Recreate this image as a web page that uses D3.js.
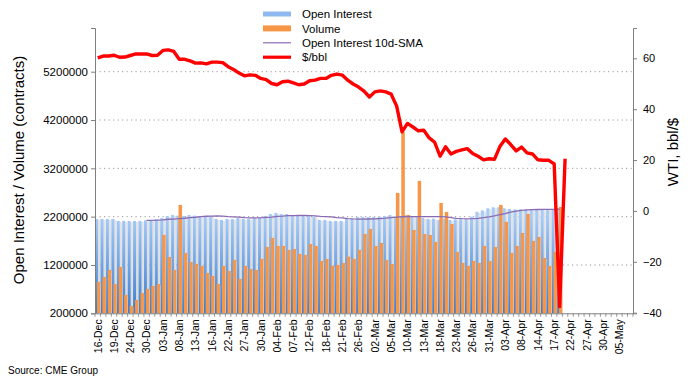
<!DOCTYPE html>
<html><head><meta charset="utf-8">
<script src="https://cdn.jsdelivr.net/npm/d3@7"></script>
<style>
html,body{margin:0;padding:0;background:#fff;}
svg{display:block;font-family:"Liberation Sans",Arial,sans-serif;}
</style></head>
<body><svg id="c" width="690" height="385"></svg>
<script>
const dates = ["16-Dec","17-Dec","18-Dec","19-Dec","20-Dec","23-Dec","24-Dec","26-Dec","27-Dec","30-Dec","31-Dec",
"02-Jan","03-Jan","06-Jan","07-Jan","08-Jan","09-Jan","10-Jan","13-Jan","14-Jan","15-Jan","16-Jan","17-Jan","21-Jan","22-Jan","23-Jan","24-Jan","27-Jan","28-Jan","29-Jan","30-Jan","31-Jan",
"03-Feb","04-Feb","05-Feb","06-Feb","07-Feb","10-Feb","11-Feb","12-Feb","13-Feb","14-Feb","18-Feb","19-Feb","20-Feb","21-Feb","24-Feb","25-Feb","26-Feb","27-Feb","28-Feb",
"02-Mar","03-Mar","04-Mar","05-Mar","06-Mar","09-Mar","10-Mar","11-Mar","12-Mar","13-Mar","16-Mar","17-Mar","18-Mar","19-Mar","20-Mar","23-Mar","24-Mar","25-Mar","26-Mar","27-Mar","30-Mar","31-Mar",
"01-Apr","02-Apr","03-Apr","06-Apr","07-Apr","08-Apr","09-Apr","13-Apr","14-Apr","15-Apr","16-Apr","17-Apr","20-Apr","21-Apr","22-Apr","23-Apr","24-Apr","27-Apr","28-Apr","29-Apr","30-Apr",
"01-May","04-May","05-May","06-May","07-May"];

const tickLabels = ["16-Dec","19-Dec","24-Dec","30-Dec","03-Jan","08-Jan","13-Jan","16-Jan","22-Jan","27-Jan","30-Jan","04-Feb","07-Feb","12-Feb","18-Feb","21-Feb","26-Feb","02-Mar","05-Mar","10-Mar","13-Mar","18-Mar","23-Mar","26-Mar","31-Mar","03-Apr","08-Apr","14-Apr","17-Apr","22-Apr","27-Apr","30-Apr","05-May"];

// Open interest (contracts), 16-Dec .. 20-Apr
const openInterest = [2153000,2153000,2153000,2153000,2112000,2112000,2112000,2112000,2112000,2125000,2130000,2150000,2174000,2215000,2236000,2222000,2215000,2236000,2222000,2201000,2208000,2201000,
2153000,2132000,2153000,2153000,2174000,2153000,2153000,2174000,2174000,2215000,2256000,2277000,2256000,2256000,2215000,2215000,2215000,2215000,2194000,2132000,2132000,2112000,
2112000,2112000,2153000,2153000,2194000,2194000,2194000,2194000,2194000,2215000,2236000,2201000,2201000,2236000,2215000,2194000,2174000,2153000,2160000,2132000,2160000,
2131000,2146000,2146000,2146000,2200000,2300000,2330000,2374000,2395000,2395000,2374000,2360000,2353000,2353000,2353000,2353000,2353000,2353000,2353000,2360000,2374000];

// Volume (contracts)
const volume = [849000,952000,1097000,807000,1159000,580000,352000,476000,621000,704000,766000,807000,1822000,1366000,1097000,2443000,1449000,1263000,1221000,1180000,1035000,973000,
807000,1180000,1076000,1304000,911000,1180000,1118000,1097000,1325000,1573000,1760000,1594000,1594000,1511000,1532000,1428000,1408000,1635000,1594000,1283000,1325000,
1187000,1200000,1242000,1373000,1325000,1511000,1842000,1946000,1594000,1656000,1304000,1221000,2691000,3950000,2236000,1925000,2940000,1842000,1822000,1677000,2484000,2298000,
2049000,1470000,1242000,1180000,1283000,1242000,1594000,1283000,1573000,2443000,2091000,1449000,1594000,1863000,2256000,1698000,1780000,1346000,1180000,1470000,2400000];

// Open interest 10-day SMA, starting 30-Dec (index 9)
const smaStart = 9;
const oiSMA = [2125000,2125000,2127000,2135000,2146000,2150000,2160000,2167000,2180000,2188000,2200000,2208000,2212000,
2215000,2213000,2200000,2194000,2190000,2178000,2174000,2174000,2176000,2185000,2190000,2205000,2210000,2220000,2222000,2224000,2224000,2222000,2218000,2205000,
2200000,2195000,2180000,2174000,2160000,2153000,2150000,2150000,2152000,2155000,2162000,2168000,2180000,2190000,2198000,2201000,2202000,2202000,2201000,2201000,2200000,
2200000,2195000,2180000,2165000,2158000,2156000,2158000,2165000,2178000,2195000,2215000,2240000,2265000,2295000,2315000,2330000,2342000,2346000,2348000,2349000,2350000,2352000,2354000];

// WTI $/bbl, 16-Dec .. 21-Apr
const wti = [60.2,60.9,60.9,61.2,60.4,60.5,61.1,61.7,61.7,61.7,61.1,61.2,63.1,63.3,62.7,59.6,59.6,59.0,58.1,58.2,57.8,58.5,58.5,58.3,56.7,55.6,54.2,53.1,53.5,53.3,52.1,51.6,
50.1,49.6,50.8,51.0,50.3,49.6,49.9,51.2,51.4,52.1,52.1,53.3,53.8,53.4,51.4,49.9,48.7,47.1,44.8,
46.8,47.2,46.8,45.9,41.3,31.1,34.4,33.0,31.5,31.7,28.7,27.0,21.5,25.2,22.4,23.4,24.0,24.5,22.6,21.5,20.1,20.5,
20.3,25.3,28.3,26.1,23.6,25.1,22.8,22.4,20.1,19.9,19.9,18.5,-37.6,20.5];

const leftTicks = [200000,1200000,2200000,3200000,4200000,5200000];
const rightTicks = [-40,-20,0,20,40,60];

const svg = d3.select("#c");
const L = 95, R = 633, B = 313.3, T = 28;

const x = d3.scaleBand().domain(dates).range([L, R]).paddingInner(0).paddingOuter(0);
const bw = x.bandwidth();

let yL = d3.scaleLinear().domain([200000, 5200000]).range([B, 71.7]);
yL = d3.scaleLinear().domain([200000, yL.invert(T)]).range([B, T]);
let yR = d3.scaleLinear().domain([-40, 60]).range([312.7, 58.3]);
yR = d3.scaleLinear().domain([yR.invert(B), yR.invert(T)]).range([B, T]);

const defs = svg.append("defs");
const gb = defs.append("linearGradient").attr("id","gBlue").attr("x1",0).attr("y1",0).attr("x2",0).attr("y2",1).attr("gradientUnits","userSpaceOnUse")
  .attr("y1", yL(2200000)).attr("y2", B);
gb.append("stop").attr("offset","0").attr("stop-color","#a7cbf7");
gb.append("stop").attr("offset","1").attr("stop-color","#3b7dd0");
const gs = defs.append("linearGradient").attr("id","gShadow").attr("x1",0).attr("y1",0).attr("x2",0).attr("y2",1);
gs.append("stop").attr("offset","0").attr("stop-color","#e4e4e4");
gs.append("stop").attr("offset","1").attr("stop-color","#d6d6d6");

// gridlines
svg.append("g").selectAll("line").data(leftTicks.slice(1)).join("line")
  .attr("x1", L).attr("x2", R).attr("y1", d => yL(d)).attr("y2", d => yL(d))
  .attr("stroke", "#9a9a9a").attr("stroke-width", 1).attr("stroke-dasharray", "1.2,3.3");

// bars
const bars = svg.append("g");
bars.selectAll("rect.sh").data(openInterest).join("rect").attr("class","sh")
  .attr("x", (d,i) => x(dates[i]) + bw*0.35).attr("width", bw*0.6)
  .attr("y", d => yL(d) + 1).attr("height", d => B - yL(d) - 1)
  .attr("fill", "url(#gShadow)");
bars.selectAll("rect.oi").data(openInterest).join("rect").attr("class","oi")
  .attr("x", (d,i) => x(dates[i])).attr("width", bw*0.55)
  .attr("y", d => yL(d)).attr("height", d => B - yL(d))
  .attr("fill", "url(#gBlue)");
bars.selectAll("rect.vs").data(volume).join("rect").attr("class","vs")
  .attr("x", (d,i) => x(dates[i]) + bw*0.55).attr("width", bw*0.5)
  .attr("y", d => yL(d) + 1).attr("height", d => B - yL(d) - 1)
  .attr("fill", "#e9e9e9");
bars.selectAll("rect.vol").data(volume).join("rect").attr("class","vol")
  .attr("x", (d,i) => x(dates[i]) + bw*0.37).attr("width", bw*0.63)
  .attr("y", d => yL(d)).attr("height", d => B - yL(d))
  .attr("fill", "#f79646");

// SMA line
svg.append("path").datum(oiSMA)
  .attr("fill","none").attr("stroke","#8a6bb3").attr("stroke-width",1.3)
  .attr("d", d3.line().x((d,i) => x(dates[i+smaStart]) + bw/2).y(d => yL(d)));

// WTI line
svg.append("path").datum(wti)
  .attr("fill","none").attr("stroke","#ff0000").attr("stroke-width",3.4).attr("stroke-linejoin","round")
  .attr("d", d3.line().x((d,i) => x(dates[i]) + bw/2).y(d => yR(d)));

// Axes
const axisColor = "#7f7f7f";
const gx = svg.append("g").attr("transform", `translate(0,${B})`)
  .call(d3.axisBottom(x).tickValues([]).tickSizeOuter(0));
gx.select(".domain").attr("stroke", axisColor);
// small category ticks
svg.append("g").selectAll("line").data(dates.concat(["_end"])).join("line")
  .attr("x1", (d,i) => L + i*bw).attr("x2", (d,i) => L + i*bw)
  .attr("y1", B).attr("y2", B + 3.5).attr("stroke", axisColor).attr("stroke-width", 0.8);
// labels
svg.append("g").selectAll("text").data(tickLabels).join("text")
  .attr("transform", d => `translate(${x(d) + bw/2 + 3.8},${B + 6}) rotate(-90)`)
  .attr("text-anchor","end").attr("font-size","10.5px").attr("fill","#000").text(d => d);

const gl = svg.append("g").attr("transform", `translate(${L},0)`)
  .call(d3.axisLeft(yL).tickValues(leftTicks).tickFormat(d3.format("d")).tickSizeOuter(0).tickSize(4).tickPadding(3));
gl.select(".domain").attr("stroke", axisColor);
gl.selectAll(".tick line").attr("stroke", axisColor);
gl.selectAll(".tick text").attr("font-size","11.5px").attr("fill","#000").attr("font-family","Liberation Sans, Arial");

const gr = svg.append("g").attr("transform", `translate(${R},0)`)
  .call(d3.axisRight(yR).tickValues(rightTicks).tickSizeOuter(0).tickSize(4).tickPadding(6));
gr.select(".domain").attr("stroke", axisColor);
gr.selectAll(".tick line").attr("stroke", axisColor);
gr.selectAll(".tick text").attr("font-size","11px").attr("fill","#000").attr("font-family","Liberation Sans, Arial");

// Axis titles
svg.append("text").attr("transform","translate(24,170) rotate(-90)").attr("text-anchor","middle")
  .attr("font-size","15px").attr("fill","#000").text("Open Interest / Volume (contracts)");
svg.append("text").attr("transform","translate(678,152) rotate(-90)").attr("text-anchor","middle")
  .attr("font-size","15px").attr("fill","#000").text("WTI, bbl/$");

// Source
svg.append("text").attr("x",8).attr("y",374).attr("font-size","10px").attr("fill","#000").text("Source: CME Group");

// Legend
const legend = [
  {name:"Open Interest", type:"blue"},
  {name:"Volume", type:"orange"},
  {name:"Open Interest 10d-SMA", type:"purple"},
  {name:"$/bbl", type:"red"}
];
const lg = svg.append("g");
legend.forEach((d,i) => {
  const cy = 14 + i*14.4;
  if (d.type === "blue") lg.append("rect").attr("x",263).attr("y",cy-2.5).attr("width",28).attr("height",5).attr("fill","#8fb9ee");
  if (d.type === "orange") lg.append("rect").attr("x",263).attr("y",cy-3).attr("width",28).attr("height",6).attr("fill","#f79646");
  if (d.type === "purple") lg.append("line").attr("x1",263).attr("x2",291).attr("y1",cy).attr("y2",cy).attr("stroke","#8a6bb3").attr("stroke-width",1.2);
  if (d.type === "red") lg.append("line").attr("x1",263).attr("x2",291).attr("y1",cy).attr("y2",cy).attr("stroke","#ff0000").attr("stroke-width",3.2);
  lg.append("text").attr("x",302).attr("y",cy+4.2).attr("font-size","11.5px").attr("fill","#000").text(d.name);
});
</script></body></html>
